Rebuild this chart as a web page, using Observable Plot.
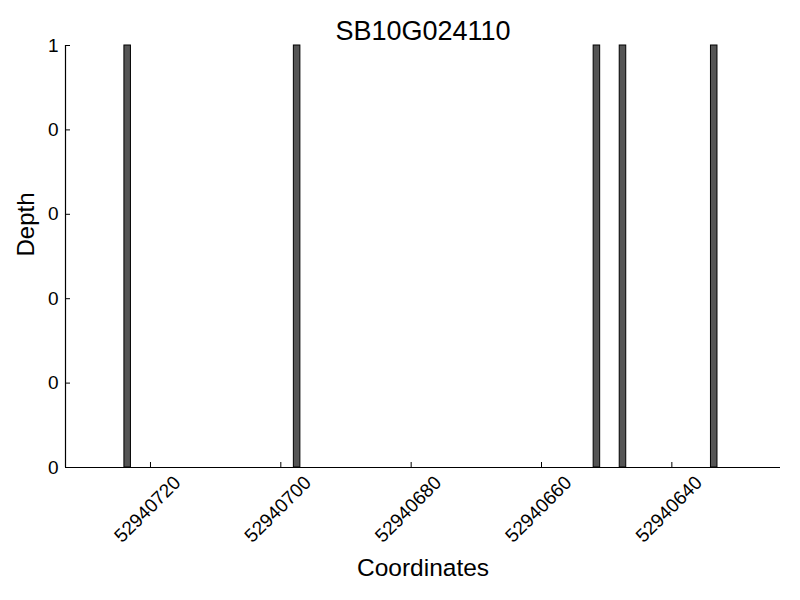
<!DOCTYPE html>
<html><head><meta charset="utf-8">
<script src="https://cdn.jsdelivr.net/npm/d3@7"></script>
<script src="https://cdn.jsdelivr.net/npm/@observablehq/plot@0.6"></script>
<style>body{margin:0;background:#fff} svg{font-family:"Liberation Sans",Arial,sans-serif}</style>
</head><body><div id="chart"></div>
<script>
const title = "SB10G024110";
const xLabel = "Coordinates";
const yLabel = "Depth";
const positions = [52940723, 52940697, 52940651, 52940647, 52940633];
const depths = [1, 1, 1, 1, 1];
const xTicks = [52940720, 52940700, 52940680, 52940660, 52940640];
const yTicks = [0, 0.2, 0.4, 0.6, 0.8, 1];
const xDomain = [52940733.04, 52940623.33];

const data = positions.map((p, i) => ({pos: p, depth: depths[i]}));
const W = 800, H = 600, mL = 65, mR = 20, mT = 45, mB = 133;
const pw = W - mL - mR, ph = H - mT - mB;
const font = '"Liberation Sans", Arial, sans-serif';

const chart = Plot.plot({
  width: W, height: H,
  marginLeft: mL, marginRight: mR, marginTop: mT, marginBottom: mB,
  style: {fontFamily: font, fontSize: "16px", color: "black", background: "white"},
  x: {domain: xDomain, label: null, axis: null},
  y: {domain: [0, 1], label: null, axis: null},
  marks: [
    Plot.rectY(data, {x1: d => d.pos, x2: d => d.pos + 1, y1: 0, y2: d => d.depth, fill: "#555555", stroke: "black", strokeWidth: 1}),
    Plot.ruleX([xDomain[0]], {stroke: "black", strokeWidth: 1.2}),
    Plot.ruleY([0], {stroke: "black", strokeWidth: 1.2}),
    Plot.tickY(yTicks, {y: d => d, insetRight: pw - 5, stroke: "black"}),
    Plot.tickX(xTicks, {x: d => d, insetTop: ph - 5, stroke: "black"}),
    Plot.text(yTicks, {y: d => d, text: d => String(Math.trunc(d)), frameAnchor: "left", textAnchor: "end", lineAnchor: "middle", dx: -7, fontSize: 19, fill: "black"}),
    Plot.text(xTicks, {x: d => d, text: d => String(d), frameAnchor: "bottom", rotate: -45, textAnchor: "end", lineAnchor: "middle", dx: 27, dy: 12, fontSize: 19, fill: "black"}),
    Plot.text([title], {frameAnchor: "top", lineAnchor: "middle", dy: -14.6, fontSize: 27, fill: "black"}),
    Plot.text([xLabel], {frameAnchor: "bottom", lineAnchor: "middle", dy: 101, fontSize: 24.5, fill: "black"}),
    Plot.text([yLabel], {frameAnchor: "left", lineAnchor: "middle", dx: -39.5, rotate: -90, fontSize: 24, fill: "black"})
  ]
});
document.getElementById("chart").appendChild(chart);
</script>
</body></html>
